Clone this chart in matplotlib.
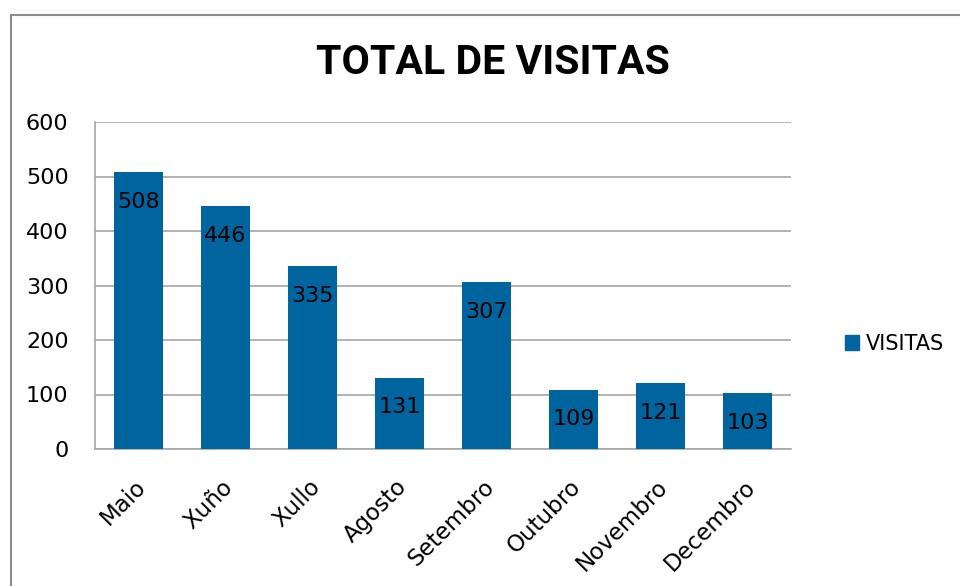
import matplotlib.pyplot as plt
import matplotlib.transforms as mtransforms
from matplotlib.patches import Rectangle, Patch

# Data
months = ["Maio", "Xuño", "Xullo", "Agosto", "Setembro", "Outubro", "Novembro", "Decembro"]
visitas = [508, 446, 335, 131, 307, 109, 121, 103]
yticks = [0, 100, 200, 300, 400, 500, 600]

bar_color = "#00649F"
grid_color = "#A6A6A6"

fig = plt.figure(figsize=(9.6, 5.86), dpi=100)

# Outer chart frame
fig.patches.append(Rectangle((11 / 960, -0.1), 1.2, (586 - 15) / 586 + 0.1,
                             transform=fig.transFigure, fill=False,
                             edgecolor="#8C8C8C", linewidth=1.5))

ax = fig.add_axes([95 / 960, 1 - 449 / 586, 696 / 960, 327 / 586])

x = range(len(months))
bars = ax.bar(x, visitas, width=0.57, color=bar_color, zorder=3)

# Labels inside the top of each bar
for rect, v in zip(bars, visitas):
    ax.annotate(str(v), (rect.get_x() + rect.get_width() / 2, v),
                xytext=(0, -21.5), textcoords="offset points",
                ha="center", va="center", fontsize=16, color="black", zorder=4)

ax.set_xlim(-0.5, len(months) - 0.5)
ax.set_ylim(0, 600)
ax.set_yticks(yticks)
ax.set_yticklabels([str(t) for t in yticks], fontsize=16)
ax.yaxis.grid(True, color=grid_color, linewidth=1.2, zorder=0)
ax.tick_params(axis="both", length=0)
ax.tick_params(axis="y", pad=19)
ax.tick_params(axis="x", pad=19)

ax.set_xticks(list(x))
ax.set_xticklabels(months, rotation=45, ha="right", rotation_mode="anchor",
                   fontsize=16.5)
shift = mtransforms.ScaledTranslation(-4 / 100, 0, fig.dpi_scale_trans)
for lbl in ax.get_xticklabels():
    lbl.set_transform(lbl.get_transform() + shift)

for side in ["top", "right"]:
    ax.spines[side].set_visible(False)
for side in ["left", "bottom"]:
    ax.spines[side].set_color(grid_color)
    ax.spines[side].set_linewidth(1.2)

# Title
fig.text(493 / 960, 1 - 63 / 586, "TOTAL DE VISITAS", ha="center", va="center",
         fontsize=29.5, fontweight="bold", family="Roboto", color="black")

# Legend
fig.legend(handles=[Patch(color=bar_color, label="VISITAS")],
           loc="center left", bbox_to_anchor=(826 / 960, 1 - 344 / 586),
           frameon=False, fontsize=15, handlelength=0.7, handleheight=0.7,
           handletextpad=0.3)

fig.savefig("out.png", dpi=100)
